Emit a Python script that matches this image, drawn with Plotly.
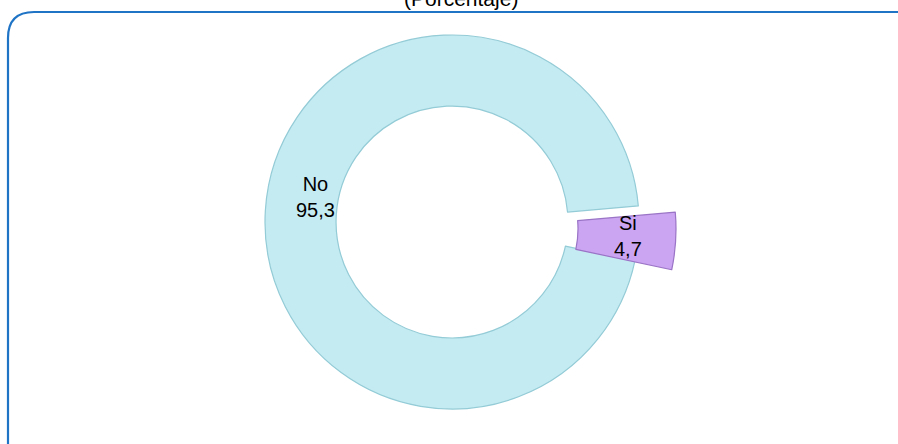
import plotly.graph_objects as go

# ---- data ----
labels = ["No", "Si"]
values = [95.3, 4.7]
colors = ["#C5EBF2", "#CBA4F2"]
edge_colors = ["#93CBD6", "#9A74C6"]
title_text = "(Porcentaje)"

W, H = 898, 444
CX, CY, R = 452, 222, 187


def dom(cx, cy, r):
    return dict(x=[(cx - r) / W, (cx + r) / W], y=[(H - cy - r) / H, (H - cy + r) / H])


def fmt(v):
    return f"{v:.1f}".replace(".", ",")


clear = "rgba(0,0,0,0)"
fig = go.Figure()
# ring ("No")
fig.add_trace(go.Pie(
    labels=labels, values=values, sort=False, direction="clockwise", rotation=102,
    hole=0.62, textinfo="none", hoverinfo="label+value", showlegend=False,
    marker=dict(colors=[colors[0], clear], line=dict(color=[edge_colors[0], clear], width=1.2)),
    domain=dom(CX, CY, R),
))
# exploded slice ("Si")
fig.add_trace(go.Pie(
    labels=labels, values=values, sort=False, direction="clockwise", rotation=102,
    hole=0.5, textinfo="none", hoverinfo="label+value", showlegend=False,
    marker=dict(colors=[clear, colors[1]], line=dict(color=[clear, edge_colors[1]], width=1.2)),
    domain=dom(CX + 28, CY + 7, 196),
))

annos = [
    dict(x=315 / W, y=(H - 197) / H, text=f"{labels[0]}<br>{fmt(values[0])}"),
    dict(x=628 / W, y=(H - 236) / H, text=f"{labels[1]}<br>{fmt(values[1])}"),
]
for a in annos:
    fig.add_annotation(xref="paper", yref="paper", showarrow=False, xanchor="center", yanchor="middle",
                       font=dict(family="Liberation Sans, Arial", size=20, color="#000000"), **a)

fig.add_annotation(xref="paper", yref="paper", x=461 / W, y=1, yanchor="middle", yshift=1.5,
                   showarrow=False, text=title_text,
                   font=dict(family="Liberation Sans, Arial", size=21, color="#000000"))

# rounded frame
x0, y0, x1, y1, r = 8, 12, 930, 480, 26
px = lambda x: x / W
py = lambda y: (H - y) / H
path = (f"M {px(x0)},{py(y1)} L {px(x0)},{py(y0 + r)} Q {px(x0)},{py(y0)} {px(x0 + r)},{py(y0)} "
        f"L {px(x1 - r)},{py(y0)} Q {px(x1)},{py(y0)} {px(x1)},{py(y0 + r)} L {px(x1)},{py(y1)}")
fig.add_shape(type="path", xref="paper", yref="paper", path=path,
              line=dict(color="#1F74C6", width=2.2))

fig.update_layout(width=W, height=H, margin=dict(l=0, r=0, t=0, b=0),
                  paper_bgcolor="white", plot_bgcolor="white", showlegend=False)

fig.write_html("out.html", config={"displayModeBar": False},
               post_script="document.body.style.margin='0';document.body.style.overflow='hidden';")
